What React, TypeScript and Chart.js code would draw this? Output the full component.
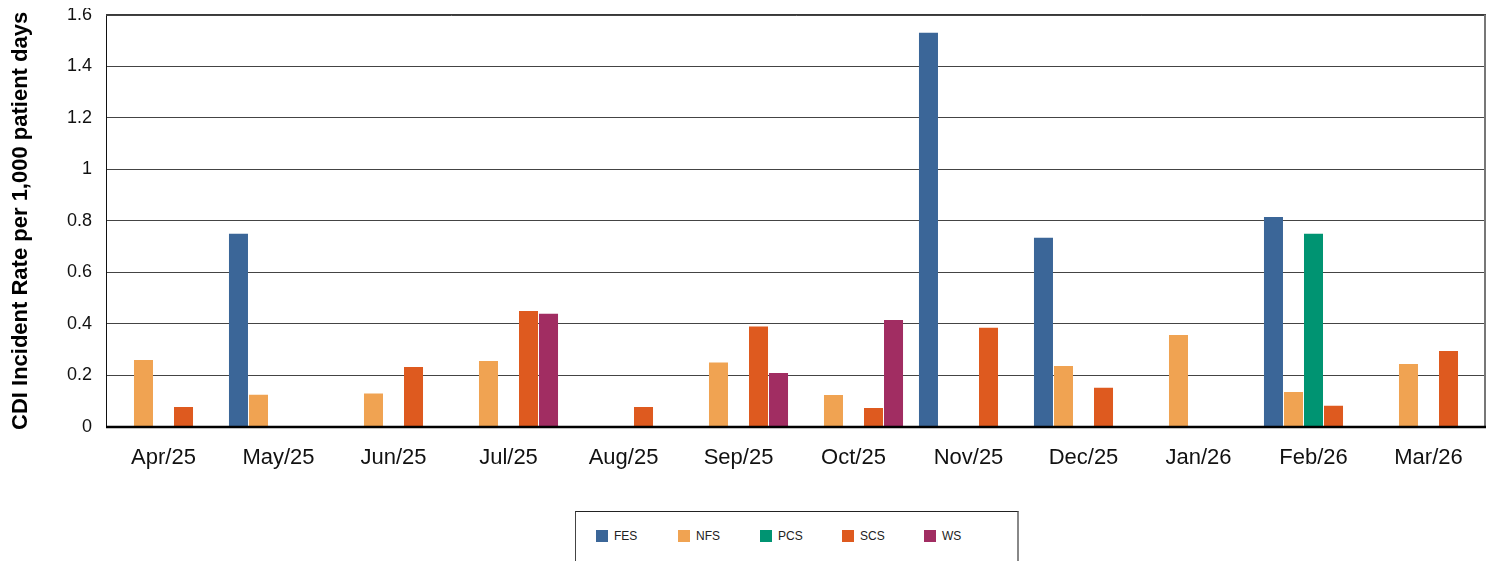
import React, { useEffect, useRef } from "react";
import { Chart, registerables } from "chart.js";

Chart.register(...registerables);

const categories = ["Apr/25", "May/25", "Jun/25", "Jul/25", "Aug/25", "Sep/25", "Oct/25", "Nov/25", "Dec/25", "Jan/26", "Feb/26", "Mar/26"];
const seriesNames = ["FES", "NFS", "PCS", "SCS", "WS"];
const seriesColors = ["#3b6698", "#f0a352", "#009472", "#de5a1f", "#a12d62"];
const fesValues = [null, 0.75, null, null, null, null, null, 1.53, 0.735, null, 0.815, null];
const nfsValues = [0.26, 0.125, 0.13, 0.256, null, 0.25, 0.124, null, 0.237, 0.357, 0.136, 0.245];
const pcsValues = [null, null, null, null, null, null, null, null, null, null, 0.75, null];
const scsValues = [0.078, null, 0.233, 0.45, 0.078, 0.39, 0.074, 0.385, 0.152, null, 0.082, 0.295];
const wsValues = [null, null, null, 0.44, null, 0.21, 0.415, null, null, null, null, null];
const yTicks = [0, 0.2, 0.4, 0.6, 0.8, 1, 1.2, 1.4, 1.6];
const yTitle = "CDI Incident Rate per 1,000 patient days";

const FONT = "'Liberation Sans', Arial, sans-serif";

const framePlugin = {
  id: "frame",
  afterDatasetsDraw(chart: any) {
    const { ctx, chartArea } = chart;
    const { left, right, top, bottom } = chartArea;
    ctx.save();
    ctx.strokeStyle = "#111";
    ctx.lineWidth = 1;
    ctx.beginPath();
    ctx.moveTo(left + 0.5, bottom);
    ctx.lineTo(left + 0.5, top + 0.5);
    ctx.lineTo(right, top + 0.5);
    ctx.stroke();
    ctx.strokeStyle = "#777";
    ctx.lineWidth = 2;
    ctx.beginPath();
    ctx.moveTo(right - 1, top);
    ctx.lineTo(right - 1, bottom);
    ctx.stroke();
    ctx.strokeStyle = "#000";
    ctx.lineWidth = 2.5;
    ctx.beginPath();
    ctx.moveTo(left, bottom);
    ctx.lineTo(right, bottom);
    ctx.stroke();
    ctx.restore();
  },
};

export default function App() {
  const ref = useRef<HTMLCanvasElement>(null);
  useEffect(() => {
    if (!ref.current) return;
    const all = [fesValues, nfsValues, pcsValues, scsValues, wsValues];
    const chart = new Chart(ref.current, {
      type: "bar",
      data: {
        labels: categories,
        datasets: seriesNames.map((n, i) => ({
          label: n,
          data: all[i] as any,
          backgroundColor: seriesColors[i],
          borderWidth: 0,
          barPercentage: 0.95,
          categoryPercentage: 0.87,
        })),
      },
      options: {
        animation: false,
        responsive: false,
        maintainAspectRatio: false,
        layout: { padding: { left: 0, right: 3, top: 7, bottom: 0 } },
        plugins: { legend: { display: false }, tooltip: { enabled: false } },
        scales: {
          x: {
            grid: { display: false },
            border: { display: false },
            ticks: { color: "#111", font: { family: FONT, size: 22 }, padding: 10, maxRotation: 0, autoSkip: false },
            afterFit: (s: any) => { s.height = 61; },
          },
          y: {
            min: 0,
            max: 1.6,
            afterBuildTicks: (s: any) => { s.ticks = yTicks.map((v) => ({ value: v })); },
            ticks: { color: "#111", font: { family: FONT, size: 18 }, padding: 14, callback: (v: any) => String(Math.round(Number(v) * 10) / 10) },
            grid: { color: "#444", drawTicks: false, lineWidth: 1 },
            border: { display: false },
            title: { display: true, text: yTitle, color: "#000", font: { family: FONT, size: 22, weight: "bold" }, padding: 0 },
            afterFit: (s: any) => { s.width = 98; },
          },
        },
      },
      plugins: [framePlugin],
    });
    return () => chart.destroy();
  }, []);

  return (
    <div style={{ position: "relative", width: 1481, height: 600 }}>
      <canvas ref={ref} width={1481} height={498} style={{ display: "block", marginTop: -18 }} />
      <div
        style={{
          position: "absolute",
          left: 567,
          top: 521,
          width: 441,
          height: 60,
          borderTop: "1px solid #222",
          borderLeft: "1px solid #444",
          borderRight: "2px solid #888",
          borderBottom: "1px solid #ccc",
          fontFamily: FONT,
          fontSize: 12,
          color: "#222",
        }}
      >
        {seriesNames.map((n, i) => (
          <div key={n} style={{ position: "absolute", left: 20 + i * 82, top: 17, display: "flex", alignItems: "center" }}>
            <span style={{ display: "inline-block", width: 12, height: 12, background: seriesColors[i], marginRight: 6 }} />
            <span>{n}</span>
          </div>
        ))}
      </div>
    </div>
  );
}
